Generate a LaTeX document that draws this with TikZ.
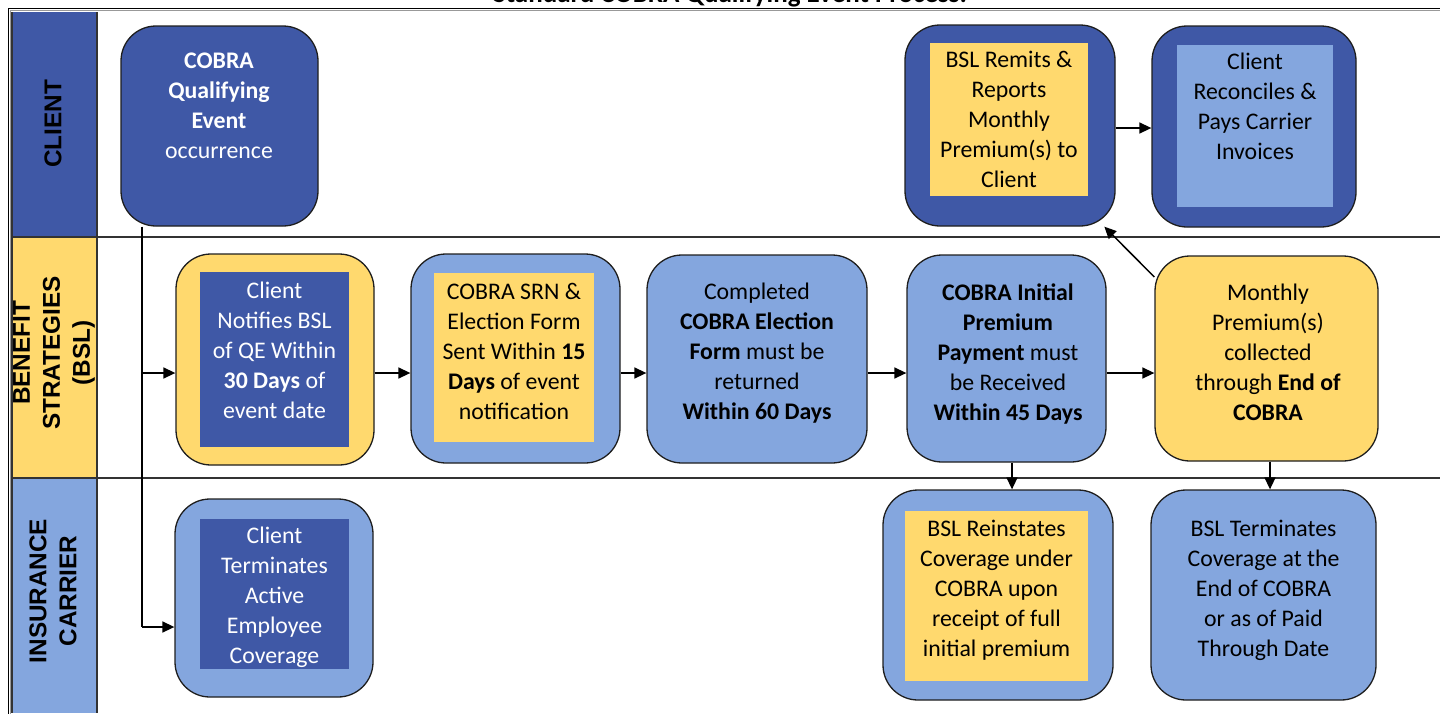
\documentclass[tikz,border=0pt]{standalone}
\usepackage{fontspec}
\setmainfont{Carlito}
\newfontfamily\hdrfont{Liberation Sans}
\usetikzlibrary{arrows.meta}
\definecolor{dkblue}{RGB}{63,88,166}
\definecolor{ltblue}{RGB}{132,166,222}
\definecolor{yel}{RGB}{255,217,110}
\definecolor{edge}{RGB}{30,30,30}
\begin{document}
\begin{tikzpicture}[x=1pt,y=-1pt,
  box/.style={draw=edge, line width=1.3pt, rounded corners=35pt, inner sep=0pt},
  innerbox/.style={draw=none, inner sep=0pt},
  txt/.style={inner sep=0pt, align=center, font=\fontsize{23.8}{30}\selectfont, anchor=north},
  wtxt/.style={txt, text=white},
  hdr/.style={inner sep=0pt, align=center, rotate=90, font=\hdrfont\bfseries\fontsize{24.3}{30}\selectfont},
  arr/.style={line width=1.5pt, draw=black, -{Triangle[length=12pt,width=11pt]}},
  plain/.style={line width=1.5pt, draw=black},
  laneline/.style={line width=1.2pt, draw=black!80}]

\useasboundingbox (0,0) rectangle (1440,713);
\clip (0,0) rectangle (1440,713);

% title (mostly cut off, as in the reference)
\node[inner sep=0pt, anchor=base, font=\bfseries\fontsize{27}{30}\selectfont] (title) at (730,2) {Standard COBRA Qualifying Event Process:};

% lanes
\fill[dkblue] (12,12) rectangle (97,237);
\fill[yel] (12,237) rectangle (97,478);
\fill[ltblue] (12,478) rectangle (97,713);
\draw[laneline] (12,237) -- (1440,237);
\draw[laneline] (12,478) -- (1440,478);
\draw[laneline] (97,12) -- (97,713);
\draw[laneline] (12,12) -- (12,713);
\draw[line width=1.5pt, black] (8.5,8.5) rectangle (1450,720);
\draw[line width=1.6pt, black!40] (10.5,10.5) rectangle (1448,718);

\node[hdr] (lclient) at (53,124) {CLIENT};
\node[hdr] (lbsl) at (54,353) {BENEFIT\\STRATEGIES\\(BSL)};
\node[hdr] (lins) at (53,591) {INSURANCE\\CARRIER};

% client lane
\node[box, fill=dkblue, minimum width=197pt, minimum height=200pt] (qe) at (219.5,126) {};
\node[wtxt] (tqe) at (219,53) {\textbf{COBRA}\\\textbf{Qualifying}\\\textbf{Event}\\occurrence};

\node[box, fill=dkblue, minimum width=210pt, minimum height=201pt] (remit) at (1010,125.5) {};
\node[innerbox, fill=yel, minimum width=158pt, minimum height=153pt] (remiti) at (1009,119.5) {};
\node[txt] (tremit) at (1009,51) {BSL Remits \&\\Reports\\Monthly\\Premium(s) to\\Client};

\node[box, fill=dkblue, minimum width=204pt, minimum height=201pt] (recon) at (1254,126.5) {};
\node[innerbox, fill=ltblue, minimum width=156pt, minimum height=162pt] (reconi) at (1255,126) {};
\node[txt] (trecon) at (1255,53) {Client\\Reconciles \&\\Pays Carrier\\Invoices};

% BSL lane
\node[box, fill=yel, minimum width=198pt, minimum height=211pt] (notify) at (275,359.5) {};
\node[innerbox, fill=dkblue, minimum width=149pt, minimum height=175pt] (notifyi) at (274.5,359.5) {};
\node[wtxt] (tnotify) at (274.5,282) {Client\\Notifies BSL\\of QE Within\\\textbf{30 Days} of\\event date};

\node[box, fill=ltblue, minimum width=209pt, minimum height=209pt] (srn) at (515.5,358.5) {};
\node[innerbox, fill=yel, minimum width=160pt, minimum height=169pt] (srni) at (514,357.5) {};
\node[txt] (tsrn) at (514,283) {COBRA SRN \&\\Election Form\\Sent Within \textbf{15}\\\textbf{Days} of event\\notification};

\node[box, fill=ltblue, minimum width=220pt, minimum height=208pt] (elect) at (757,359) {};
\node[txt] (telect) at (757,283) {Completed\\\textbf{COBRA Election}\\\textbf{Form} must be\\returned\\\textbf{Within 60 Days}};

\node[box, fill=ltblue, minimum width=199pt, minimum height=207pt] (initial) at (1006.5,358.5) {};
\node[txt] (tinitial) at (1008,284) {\textbf{COBRA Initial}\\\textbf{Premium}\\\textbf{Payment} must\\be Received\\\textbf{Within 45 Days}};

\node[box, fill=yel, minimum width=223pt, minimum height=205pt] (monthly) at (1266.5,358.5) {};
\node[txt] (tmonthly) at (1268,284) {Monthly\\Premium(s)\\collected\\through \textbf{End of}\\\textbf{COBRA}};

% insurance lane
\node[box, fill=ltblue, minimum width=198pt, minimum height=198pt] (cterm) at (274,598) {};
\node[innerbox, fill=dkblue, minimum width=149pt, minimum height=150pt] (ctermi) at (274.5,594) {};
\node[wtxt] (tcterm) at (274.5,527) {Client\\Terminates\\Active\\Employee\\Coverage};

\node[box, fill=ltblue, minimum width=230pt, minimum height=210pt] (reinst) at (998,595) {};
\node[innerbox, fill=yel, minimum width=183pt, minimum height=170pt] (reinsti) at (996.5,596) {};
\node[txt] (treinst) at (996.5,520) {BSL Reinstates\\Coverage under\\COBRA upon\\receipt of full\\initial premium};

\node[box, fill=ltblue, minimum width=225pt, minimum height=210pt] (bterm) at (1263.5,595) {};
\node[txt] (tbterm) at (1263.5,520) {BSL Terminates\\Coverage at the\\End of COBRA\\or as of Paid\\Through Date};

% connectors
\coordinate (j1) at (142,373);
\coordinate (j2) at (142,627);
\draw[plain] (qe.south -| j1) -- (j2);
\draw[arr] (j1) -- (notify.west |- j1);
\draw[arr] (j2) -- (cterm.west |- j2);
\draw[arr] (notify.east |- j1) -- (srn.west |- j1);
\draw[arr] (srn.east |- j1) -- (elect.west |- j1);
\draw[arr] (elect.east |- j1) -- (initial.west |- j1);
\draw[arr] (initial.east |- j1) -- (monthly.west |- j1);
\draw[arr] ([yshift=-2.5pt]remit.east) -- ([yshift=-2.5pt]remit.east -| recon.west);
\draw[arr] ([xshift=5.5pt]initial.south) -- ([xshift=5.5pt]initial.south |- reinst.north);
\draw[arr] ([xshift=3.5pt]monthly.south) -- ([xshift=3.5pt]monthly.south |- bterm.north);
\draw[arr] (monthly.144) -- (remit.-47);
\end{tikzpicture}
\end{document}
